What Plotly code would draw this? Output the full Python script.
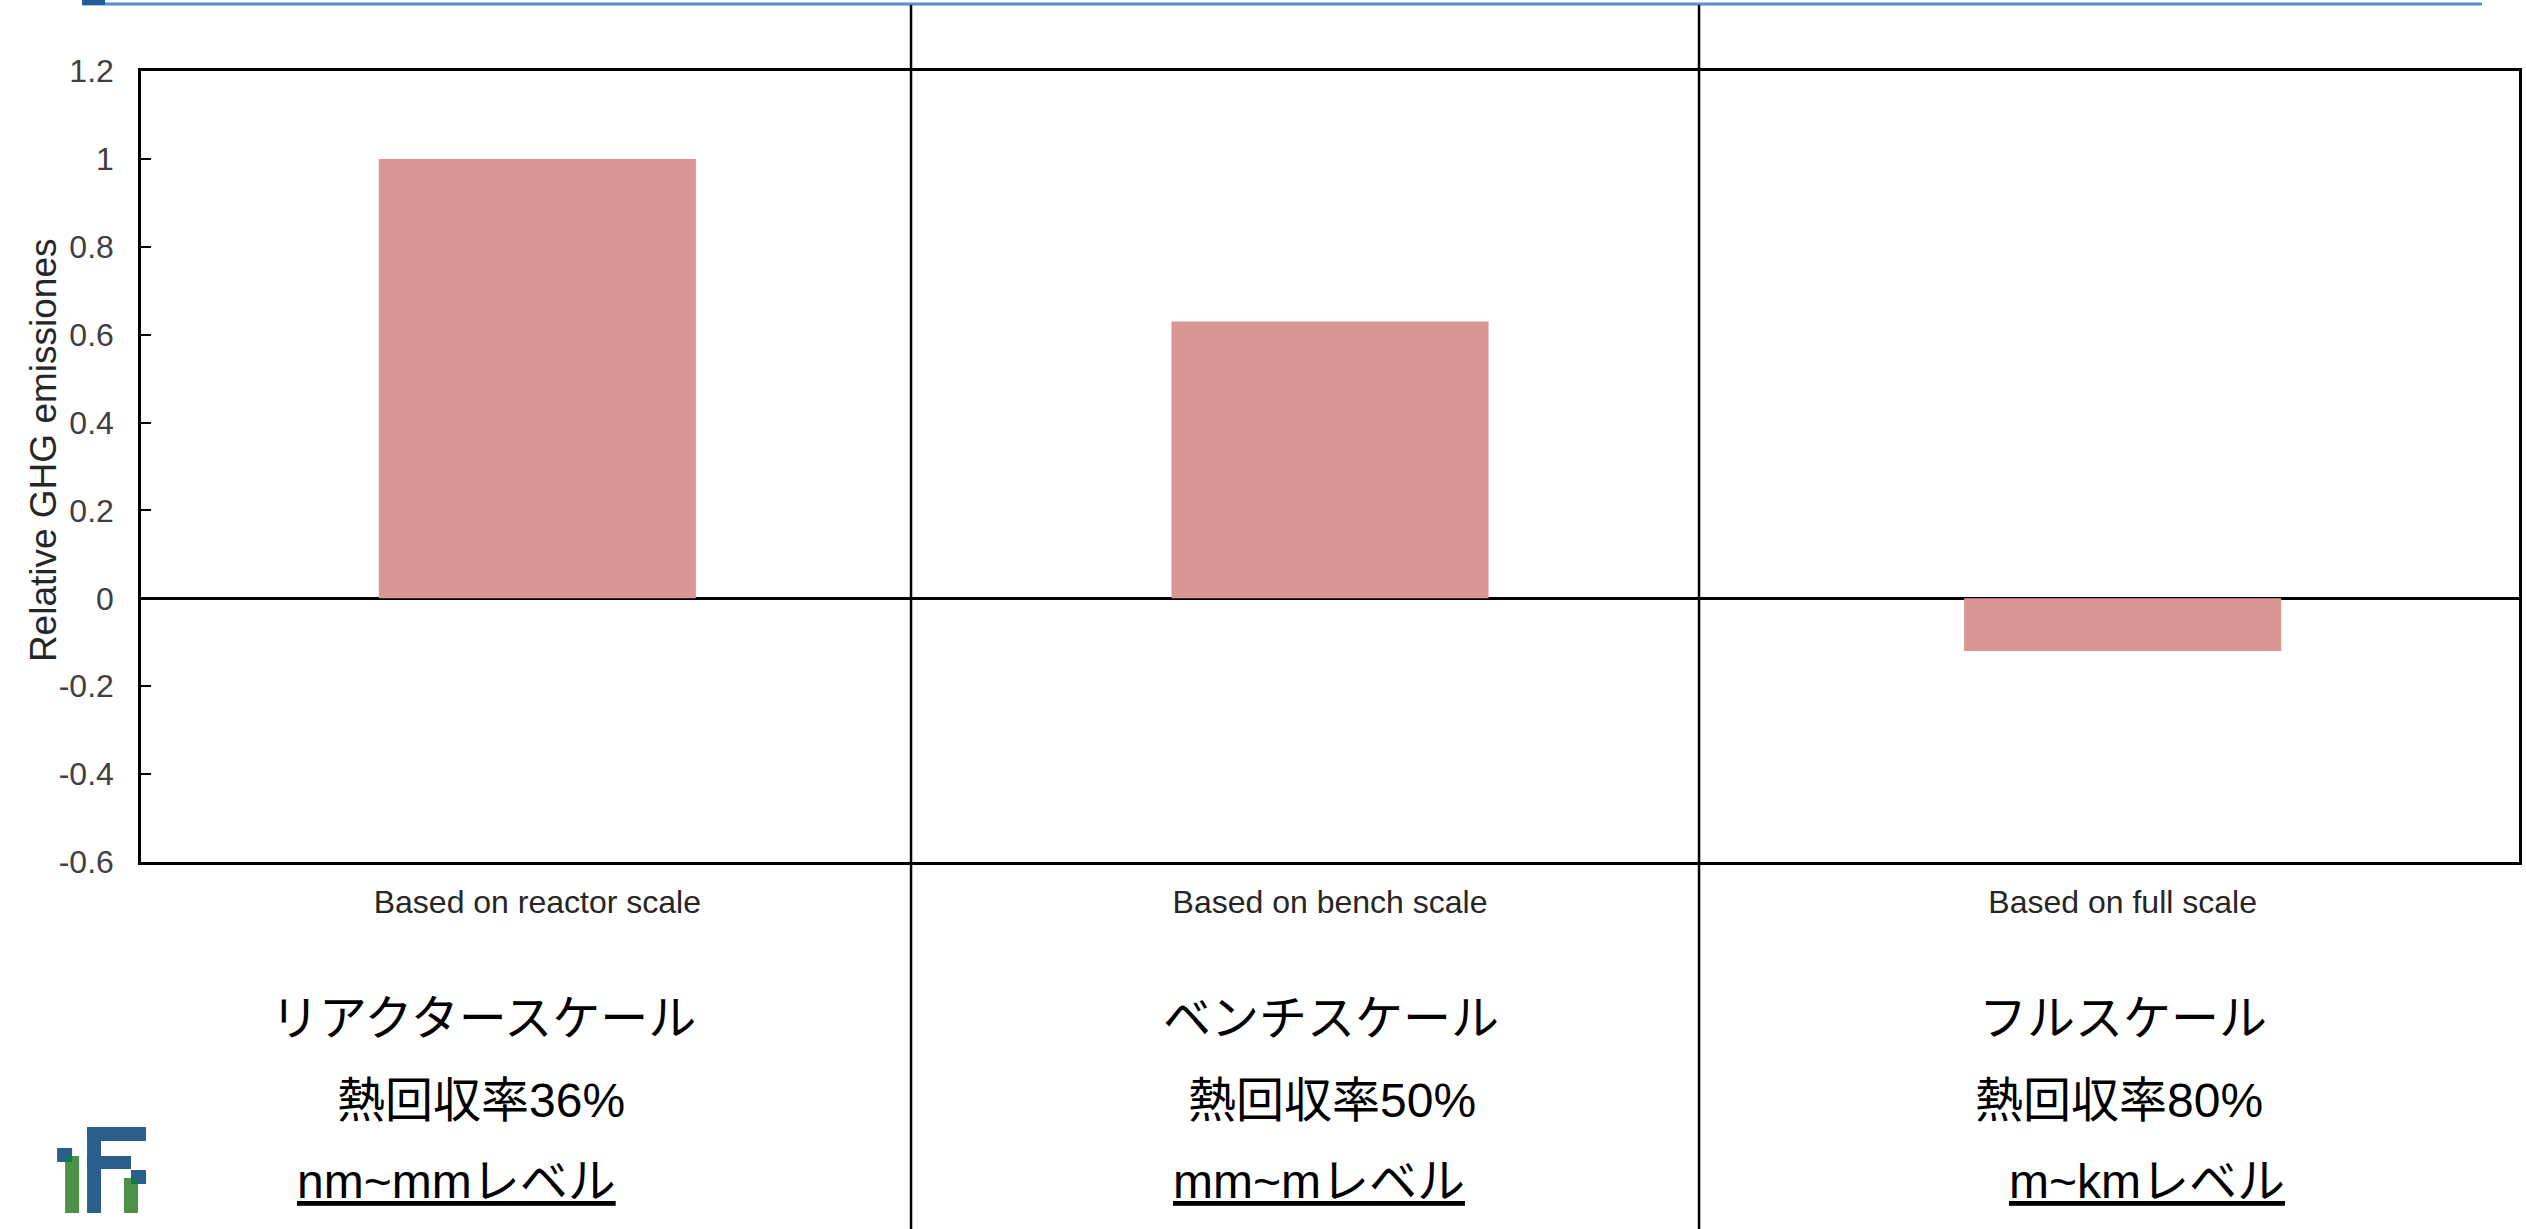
import plotly.graph_objects as go

# ---- data ----
categories = ["Based on reactor scale", "Based on bench scale", "Based on full scale"]
ghg_relative = [1.0, 0.63, -0.12]
y_tick_vals = [1.2, 1.0, 0.8, 0.6, 0.4, 0.2, 0.0, -0.2, -0.4, -0.6]
y_tick_text = ["1.2", "1", "0.8", "0.6", "0.4", "0.2", "0", "-0.2", "-0.4", "-0.6"]
scale_names = ["リアクタースケール", "ベンチスケール", "フルスケール"]
heat_recovery = ["熱回収率36%", "熱回収率50%", "熱回収率80%"]
size_levels = ["nm~mmレベル", "mm~mレベル", "m~kmレベル"]

# ---- page geometry (pixels) ----
W, H = 2526, 1229
PL, PR, PT, PB = 141, 2522, 71, 862   # plot-area edges


def px(x):
    return (x - PL) / (PR - PL)


def py(y):
    return (PB - y) / (PB - PT)


LATIN = "Liberation Sans, Arial, sans-serif"
JP = "Liberation Sans, Noto Sans CJK JP, sans-serif"

fig = go.Figure(
    go.Bar(
        x=categories,
        y=ghg_relative,
        marker=dict(color="#D99694", line=dict(width=0)),
        showlegend=False,
    )
)

fig.update_layout(
    width=W,
    height=H,
    margin=dict(l=PL, r=W - PR, t=PT, b=H - PB, pad=0),
    paper_bgcolor="white",
    plot_bgcolor="white",
    bargap=0.6,
    font=dict(family=LATIN, color="#333333"),
)

fig.update_xaxes(
    showline=True, mirror=True, linecolor="black", linewidth=2.5,
    ticks="", showgrid=False,
    tickfont=dict(family=LATIN, size=32, color="#262626"),
    ticklabelstandoff=10,
)

fig.update_yaxes(
    range=[-0.6, 1.2],
    tickvals=y_tick_vals, ticktext=y_tick_text,
    showline=True, mirror=True, linecolor="black", linewidth=2.5,
    ticks="inside", ticklen=10, tickwidth=2, tickcolor="black",
    showgrid=False,
    zeroline=True, zerolinecolor="black", zerolinewidth=2.5,
    tickfont=dict(family=LATIN, size=32, color="#404040"),
    ticklabelstandoff=18,
)

shapes = []
# header rule with its marker block
shapes.append(dict(type="line", xref="paper", yref="paper",
                   x0=px(82), x1=px(2485), y0=py(4), y1=py(4),
                   line=dict(color="#5B8BD0", width=3)))
shapes.append(dict(type="rect", xref="paper", yref="paper",
                   x0=px(82), x1=px(105), y0=py(-2), y1=py(5),
                   line=dict(width=0), fillcolor="#1F5C99"))
# column dividers
for xd in (912, 1701):
    shapes.append(dict(type="line", xref="paper", yref="paper",
                       x0=px(xd), x1=px(xd), y0=py(5), y1=py(H + 2),
                       line=dict(color="black", width=2.5)))

# "iF" logo blocks: (x0, y0, x1, y1, colour)
BLUE, GREEN, OVER = "#2A5E8C", "#4C9146", "#0A7F4E"
logo = [
    (87, 1127, 101, 1213, BLUE),
    (87, 1127, 146, 1141, BLUE),
    (87, 1156, 131, 1169, BLUE),
    (65, 1156, 79, 1213, GREEN),
    (57, 1148, 72, 1162, BLUE),
    (65, 1156, 72, 1162, OVER),
    (124, 1178, 138, 1213, GREEN),
    (131, 1170, 146, 1184, BLUE),
    (131, 1178, 138, 1184, OVER),
]
for x0, y0, x1, y1, c in logo:
    shapes.append(dict(type="rect", xref="paper", yref="paper",
                       x0=px(x0), x1=px(x1), y0=py(y0), y1=py(y1),
                       line=dict(width=0), fillcolor=c))
fig.update_layout(shapes=shapes)

annotations = []
# y-axis title
annotations.append(dict(
    text="Relative GHG emissiones", textangle=-90,
    xref="paper", yref="paper", x=px(43), y=py(450),
    xanchor="center", yanchor="middle", showarrow=False,
    font=dict(family=LATIN, size=37, color="#262626"),
))

# Japanese captions under each column: (centre x per line)
line_centres = [
    (484, 481, 457),
    (1333, 1334, 1320),
    (2126, 2121, 2150),
]
line_y = (1019, 1100, 1181)
for i in range(3):
    texts = (scale_names[i], heat_recovery[i], size_levels[i])
    for j, t in enumerate(texts):
        f = dict(family=JP, size=48, color="black")
        if j == 2:
            f["lineposition"] = "under"
        annotations.append(dict(
            text=t, xref="paper", yref="paper",
            x=px(line_centres[i][j]), y=py(line_y[j]),
            xanchor="center", yanchor="middle", showarrow=False,
            font=f,
        ))
fig.update_layout(annotations=annotations)

fig.write_html("out.html")
